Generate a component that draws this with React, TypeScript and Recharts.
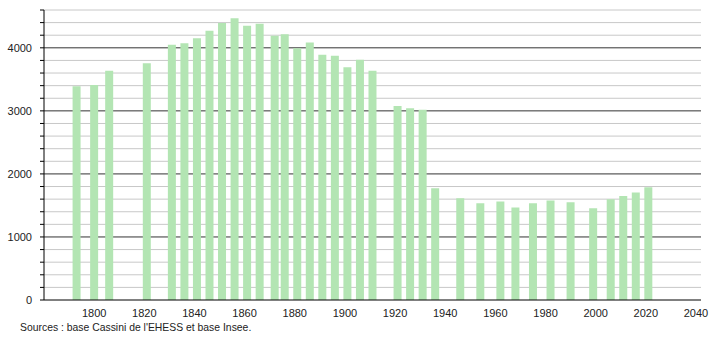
import { BarChart, Bar, XAxis, YAxis, CartesianGrid } from "recharts";

const years = [
  1793, 1800, 1806, 1821, 1831, 1836, 1841, 1846, 1851, 1856, 1861, 1866, 1872, 1876,
  1881, 1886, 1891, 1896, 1901, 1906, 1911, 1921, 1926, 1931, 1936, 1946, 1954, 1962,
  1968, 1975, 1982, 1990, 1999, 2006, 2011, 2016, 2021,
];

const population = [
  3390, 3410, 3635, 3757, 4048, 4074, 4153, 4270, 4392, 4471, 4349, 4381, 4190, 4217,
  3995, 4085, 3889, 3873, 3693, 3810, 3635, 3079, 3042, 3016, 1772, 1614, 1534, 1561,
  1466, 1534, 1577, 1550, 1455, 1598, 1651, 1704, 1788,
];

const xTicks = [1800, 1820, 1840, 1860, 1880, 1900, 1920, 1940, 1960, 1980, 2000, 2020, 2040];
const yTicks = [
  0, 200, 400, 600, 800, 1000, 1200, 1400, 1600, 1800, 2000, 2200, 2400, 2600, 2800, 3000,
  3200, 3400, 3600, 3800, 4000, 4200, 4400, 4600,
];
const majorLines = [1000, 2000, 3000, 4000];
const minorLines = yTicks.filter((v) => v > 0 && v % 1000 !== 0);

const data = years.map((year, i) => ({ year, population: population[i] }));

const font = "'Liberation Sans', Arial, sans-serif";

export default function App() {
  return (
    <div style={{ position: "absolute", left: 0, top: 0, width: 710, height: 340, background: "#fff", fontFamily: font }}>
      <BarChart width={710} height={340} data={data} margin={{ top: 10, right: 9, left: 0, bottom: 10 }}>
        <CartesianGrid vertical={false} horizontalValues={minorLines} stroke="#c8c8c8" />
        <CartesianGrid vertical={false} horizontalValues={majorLines} stroke="#333" />
        <XAxis
          dataKey="year"
          type="number"
          domain={[1780, 2042]}
          ticks={xTicks}
          allowDataOverflow
          interval={0}
          tickLine={false}
          tickSize={0}
          tickMargin={9}
          axisLine={{ stroke: "#000" }}
          tick={{ fontSize: 11, fill: "#222", fontFamily: font }}
        />
        <YAxis
          type="number"
          domain={[0, 4600]}
          ticks={yTicks}
          interval={0}
          width={44}
          tickSize={4}
          tickMargin={8}
          tickLine={{ stroke: "#000" }}
          axisLine={{ stroke: "#000" }}
          tickFormatter={(v: number) => (v % 1000 === 0 ? String(v) : "")}
          tick={{ fontSize: 11, fill: "#222", fontFamily: font }}
        />
        <Bar dataKey="population" fill="#b3e5b3" barSize={8} isAnimationActive={false} />
      </BarChart>
      <div style={{ position: "absolute", left: 20, top: 322, fontSize: 10.4, color: "#222" }}>
        Sources : base Cassini de l'EHESS et base Insee.
      </div>
    </div>
  );
}
